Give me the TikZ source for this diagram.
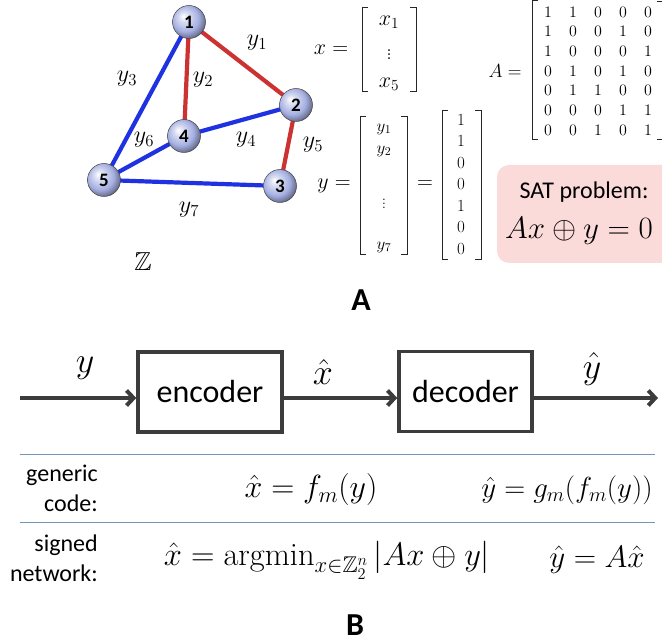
\RequirePackage{fix-cm}
\documentclass[tikz,border=0pt]{standalone}
\usepackage{amsmath,amssymb}
\usepackage{fontspec}
\newfontfamily\carl{Carlito}
\usetikzlibrary{arrows.meta}
\definecolor{edgered}{RGB}{205,50,50}
\definecolor{edgeblue}{RGB}{30,50,225}
\definecolor{ballcol}{RGB}{165,175,225}
\definecolor{boxgray}{RGB}{60,60,60}
\definecolor{sepblue}{RGB}{115,150,185}
\definecolor{satpink}{RGB}{251,218,218}
\pgfdeclareradialshading{myball}{\pgfqpoint{-9bp}{9bp}}{%
  color(0bp)=(white); color(8bp)=(white!55!ballcol); color(20bp)=(ballcol);
  color(27bp)=(ballcol!70!black); color(31bp)=(ballcol!45!black); color(50bp)=(ballcol!45!black)}
\newcommand{\fsz}[1]{\fontsize{#1}{#1}\selectfont}
\begin{document}
\begin{tikzpicture}[x=1pt,y=-1pt,
  ball/.style={circle, minimum size=33pt, inner sep=0pt, shading=myball,
    draw=gray!55!black, line width=0.5pt, font=\carl\bfseries\fsz{19}},
  redge/.style={draw=edgered, line width=4.2pt, shorten <=5pt, shorten >=5pt},
  bedge/.style={draw=edgeblue, line width=4.2pt, shorten <=5pt, shorten >=5pt},
  elab/.style={inner sep=0pt, font=\fsz{24}},
  ent/.style={inner sep=0pt, font=\fsz{17}},
  brk/.style={line width=1pt, draw=black!85},
  blockbox/.style={draw=boxgray, line width=3.5pt, minimum height=80pt, inner sep=0pt, font=\carl\fsz{32}},
  arr/.style={draw=boxgray, line width=4pt, -{Straight Barb[length=7pt,width=15pt]}},
  sep/.style={draw=sepblue, line width=1pt},
  rowlab/.style={inner sep=0pt, align=right, anchor=east, font=\carl\fontsize{24}{30}\selectfont},
  partlab/.style={inner sep=0pt, font=\carl\bfseries\fsz{32}}
]
\useasboundingbox (0,0) rectangle (662,644);
\clip (0,0) rectangle (662,644);

% ---------- graph ----------
\coordinate (p1) at (189,22);
\coordinate (p2) at (296,105);
\coordinate (p3) at (280,186);
\coordinate (p4) at (184,136);
\coordinate (p5) at (104,180);
\draw[redge] (p1) -- (p2);
\draw[redge] (p1) -- (p4);
\draw[bedge] (p1) -- (p5);
\draw[bedge] (p4) -- (p2);
\draw[redge] (p2) -- (p3);
\draw[bedge] (p5) -- (p4);
\draw[bedge] (p5) -- (p3);
\node[ball] (n1) at (p1) {1};
\node[ball] (n2) at (p2) {2};
\node[ball] (n3) at (p3) {3};
\node[ball] (n4) at (p4) {4};
\node[ball] (n5) at (p5) {5};

\node[elab] (ly1) at (257,43) {$y_1$};
\node[elab] (ly2) at (203,80) {$y_2$};
\node[elab] (ly3) at (127,79) {$y_3$};
\node[elab] (ly4) at (246,140) {$y_4$};
\node[elab] (ly5) at (313,145) {$y_5$};
\node[elab] (ly6) at (144,140) {$y_6$};
\node[elab] (ly7) at (189,210) {$y_7$};
\node[inner sep=0pt, font=\fsz{26}] (zz) at (143,262) {$\mathbb{Z}$};

% ---------- x vector ----------
\node[inner sep=0pt, font=\fsz{22}] (xeq) at (331,50) {$x =$};
\draw[brk] (368,8) -- (362,8) -- (362,92) -- (368,92);
\draw[brk] (410,8) -- (416,8) -- (416,92) -- (410,92);
\node[inner sep=0pt, font=\fsz{22}] (x1) at (389,22) {$x_1$};
\node[inner sep=0pt, font=\fsz{22}] (xd) at (389,52) {$\vdots$};
\node[inner sep=0pt, font=\fsz{22}] (x5) at (389,84) {$x_5$};

% ---------- y vector ----------
\node[inner sep=0pt, font=\fsz{22}] (yeq) at (334,186) {$y =$};
\draw[brk] (366,117) -- (360,117) -- (360,255) -- (366,255);
\draw[brk] (401,117) -- (407,117) -- (407,255) -- (401,255);
\node[ent] (yy1) at (384,129) {$y_1$};
\node[ent] (yy2) at (384,151) {$y_2$};
\node[ent] (yyd) at (384,201) {$\vdots$};
\node[ent] (yy7) at (384,247) {$y_7$};
\node[inner sep=0pt, font=\fsz{22}] (eq2) at (425,185) {$=$};
\draw[brk] (448,111) -- (442,111) -- (442,260) -- (448,260);
\draw[brk] (475,111) -- (481,111) -- (481,260) -- (475,260);
\foreach \v [count=\k] in {1,1,0,0,1,0,0} {
  \node[ent] (c\k) at (461,{120+21.5*(\k-1)}) {$\v$};
}

% ---------- matrix A ----------
\node[inner sep=0pt, font=\fsz{19}] (aeq) at (505,71) {$A =$};
\draw[brk] (538,1) -- (532,1) -- (532,140) -- (538,140);
\draw[brk] (657,2) -- (664,2) -- (664,140) -- (657,140);
\foreach \row [count=\r] in {{1,1,0,0,0},{1,0,0,1,0},{1,0,0,0,1},{0,1,0,1,0},{0,1,1,0,0},{0,0,0,1,1},{0,0,1,0,1}} {
  \foreach \v [count=\c] in \row {
    \node[inner sep=0pt, font=\fsz{16}] (a\r\c) at ({523+25*\c},{12+19.67*(\r-1)}) {$\v$};
  }
}

% ---------- SAT box ----------
\fill[satpink, rounded corners=12pt] (497,165) rectangle (680,263);
\node[inner sep=0pt, font=\carl\fsz{24}] (sat) at (584,192) {SAT problem:};
\node[inner sep=0pt, font=\fsz{31}] (sateq) at (579,231) {$Ax \oplus y = 0$};

\node[partlab] (pa) at (361,300) {A};

% ---------- part B ----------
\node[blockbox, minimum width=144pt] (enc) at (210,392) {encoder};
\node[blockbox, minimum width=133pt] (dec) at (465.5,391.5) {decoder};
\coordinate (in) at (20,398);
\coordinate (out) at (658,398);
\draw[arr] (in) -- (in -| enc.west);
\draw[arr] (enc.east |- in) -- (dec.west |- in);
\draw[arr] (dec.east |- in) -- (out);
\node[inner sep=0pt, font=\fsz{36}] (ly) at (85,368) {$y$};
\node[inner sep=0pt, font=\fsz{36}] (lx) at (323,372) {$\hat{x}$};
\node[inner sep=0pt, font=\fsz{36}] (lyh) at (592,369) {$\hat{y}$};

\coordinate (s1a) at (20,455); \coordinate (s1b) at (655,455);
\coordinate (s2a) at (20,522); \coordinate (s2b) at (655,522);
\draw[sep] (s1a) -- (s1b);
\draw[sep] (s2a) -- (s2b);

\node[rowlab] (gc) at (98,488) {generic\\code:};
\node[rowlab] (sn) at (98,558) {signed\\network:};
\node[inner sep=0pt, font=\fsz{32}] (f1) at (311,490) {$\hat{x} = f_m(y)$};
\node[inner sep=0pt, font=\fsz{29}] (f2) at (567,490) {$\hat{y} = g_m(f_m(y))$};
\node[inner sep=0pt, font=\fsz{32.5}] (f3) at (327,560) {$\hat{x} = \operatorname{argmin}_{x\in\mathbb{Z}_2^n}|Ax \oplus y|$};
\node[inner sep=0pt, font=\fsz{31}] (f4) at (597,560) {$\hat{y} = A\hat{x}$};

\node[partlab] (pb) at (355,625) {B};
\end{tikzpicture}
\end{document}
